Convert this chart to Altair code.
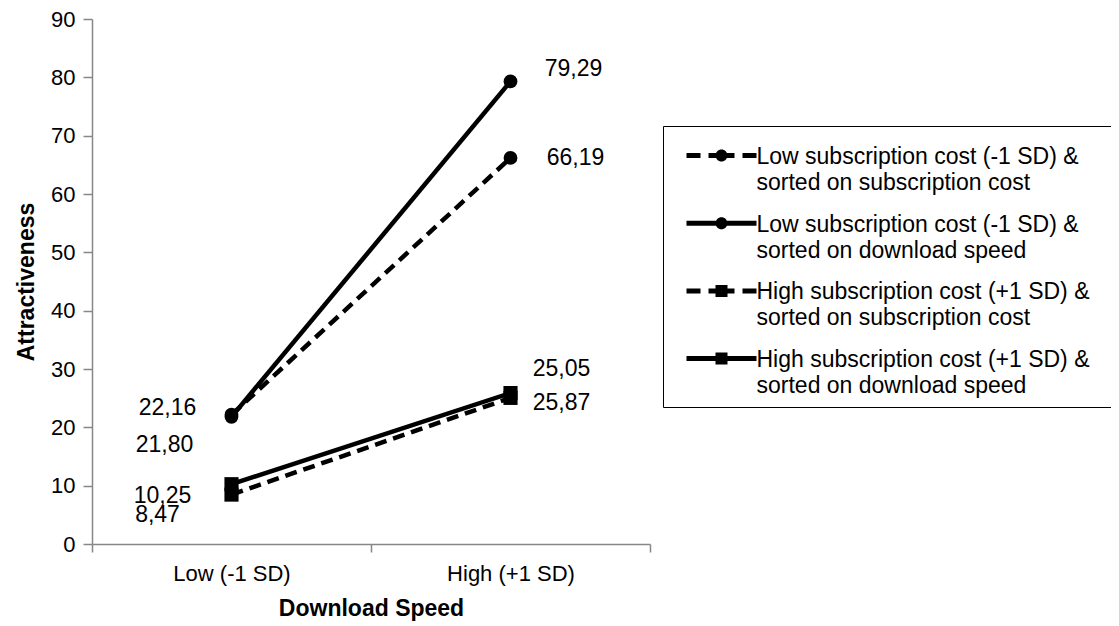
import altair as alt
import pandas as pd

# ---- data ----
speed_levels = ["Low (-1 SD)", "High (+1 SD)"]
series_names = [
    "Low subscription cost (-1 SD) & sorted on subscription cost",
    "Low subscription cost (-1 SD) & sorted on download speed",
    "High subscription cost (+1 SD) & sorted on subscription cost",
    "High subscription cost (+1 SD) & sorted on download speed",
]
low_speed_values = [22.16, 21.80, 8.47, 10.25]
high_speed_values = [66.19, 79.29, 25.05, 25.87]
y_ticks = [0, 10, 20, 30, 40, 50, 60, 70, 80, 90]

# ---- styles ----
DASH = [12, 7]
# legend symbols (filled SVG paths; 1 unit = 5 px): line segment + marker
_pad = "M77.2,1.9Z"  # keeps the legend frame as wide as the reference box
_dot = "M0.2,1.9A1.2,1.2,0,1,1,-2.2,1.9A1.2,1.2,0,1,1,0.2,1.9Z"
_sq = "M-2.2,0.7H0.2V3.1H-2.2Z"
_solid = "M-8,1.4H-2V2.4H-8Z M0,1.4H6V2.4H0Z"
_dashed = "M-8,1.4H-5.2V2.4H-8Z M-3.6,1.4H1.6V2.4H-3.6Z M3.2,1.4H6V2.4H3.2Z"
legend_symbols = [
    _dashed + _dot + _pad,
    _solid + _dot + _pad,
    _dashed + _sq + _pad,
    _solid + _sq + _pad,
]
# label pixel offsets (dx, dy) per (series index, level index)
label_offsets = {
    (0, 0): (-64, -7), (1, 0): (-67, 28), (2, 0): (-74, 20), (3, 0): (-69, 12),
    (0, 1): (65, 0), (1, 1): (63, -12), (2, 1): (51, -29), (3, 1): (51, 10),
}

rows = []
for i, s in enumerate(series_names):
    for j, (lvl, v) in enumerate(zip(speed_levels, [low_speed_values[i], high_speed_values[i]])):
        rows.append({"series": s, "speed": lvl, "value": v, "si": i, "li": j,
                     "label": f"{v:.2f}".replace(".", ",")})
df = pd.DataFrame(rows)

FONT = "Liberation Sans"
AXIS_GRAY = "#878787"

x_enc = alt.X(
    "speed:N",
    sort=speed_levels,
    scale=alt.Scale(type="band", domain=speed_levels, paddingInner=0, paddingOuter=0),
    axis=alt.Axis(
        title="Download Speed", tickBand="extent", labelAngle=0,
        labelFontSize=22, labelColor="black", labelPadding=11, labelFont=FONT,
        titleFontSize=23, titleFontWeight="bold", titleColor="black", titlePadding=13, titleFont=FONT,
        domainColor=AXIS_GRAY, tickColor=AXIS_GRAY, tickSize=8, domainWidth=1.5, tickWidth=1.5,
    ),
)
y_enc = alt.Y(
    "value:Q",
    scale=alt.Scale(domain=[0, 90], nice=False, zero=True),
    axis=alt.Axis(
        values=y_ticks, title="Attractiveness", grid=False,
        labelFontSize=22, labelColor="black", labelPadding=8, labelFont=FONT,
        titleFontSize=23, titleFontWeight="bold", titleColor="black", titlePadding=12, titleFont=FONT,
        domainColor=AXIS_GRAY, tickColor=AXIS_GRAY, tickSize=9, domainWidth=1.5, tickWidth=1.5,
    ),
)

legend = alt.Legend(
    title=None, orient="none", legendX=571, legendY=107,
    strokeColor="black", padding=8.5, symbolSize=100, symbolStrokeWidth=0,
    symbolFillColor="black", symbolOpacity=1, symbolOffset=43.5,
    labelFontSize=23, labelColor="black", labelFont=FONT,
    labelLimit=600, labelOffset=18.5, rowPadding=6.7, labelBaseline="top",
    labelExpr="[slice(datum.label, 0, indexof(datum.label, '&') + 1), slice(datum.label, indexof(datum.label, '&') + 2)]",
)

base = alt.Chart(df)

dashed_lines = base.transform_filter("datum.si % 2 === 0").mark_line(
    color="black", strokeWidth=4.5, strokeDash=DASH
).encode(x=x_enc, y=y_enc, detail="series:N")
solid_lines = base.transform_filter("datum.si % 2 === 1").mark_line(
    color="black", strokeWidth=4.5
).encode(x=x_enc, y=y_enc, detail="series:N")

circles = base.transform_filter("indexof(datum.series, 'Low') === 0").mark_point(
    shape="circle", filled=True, color="black", size=190, opacity=1
).encode(x=x_enc, y=y_enc)
squares = base.transform_filter("indexof(datum.series, 'High') === 0").mark_point(
    shape="square", filled=True, color="black", size=200, opacity=1
).encode(x=x_enc, y=y_enc)

# zero-size layer that only carries the legend (line + marker symbols)
legend_layer = base.mark_point(
    filled=True, fill="black", size=0
).encode(
    x=x_enc, y=y_enc,
    shape=alt.Shape("series:N", sort=series_names,
                    scale=alt.Scale(domain=series_names, range=legend_symbols), legend=legend),
)

texts = []
for (si, li), (dx, dy) in label_offsets.items():
    texts.append(
        base.transform_filter(f"datum.si === {si} && datum.li === {li}")
        .mark_text(dx=dx, dy=dy, fontSize=23, font=FONT, color="black", align="center", baseline="middle")
        .encode(x=x_enc, y=y_enc, text="label:N")
    )

chart = alt.layer(dashed_lines, solid_lines, circles, squares, legend_layer, *texts).properties(
    width=558, height=525,
    padding={"left": 84, "top": 11, "right": 461, "bottom": 82},
    autosize=alt.AutoSizeParams(type="none"),
).configure(
    font=FONT, style={"guide-label": {"lineHeight": 26}}
).configure_view(stroke=None)

chart.save("out.html", embed_options={"renderer": "svg", "actions": False})
